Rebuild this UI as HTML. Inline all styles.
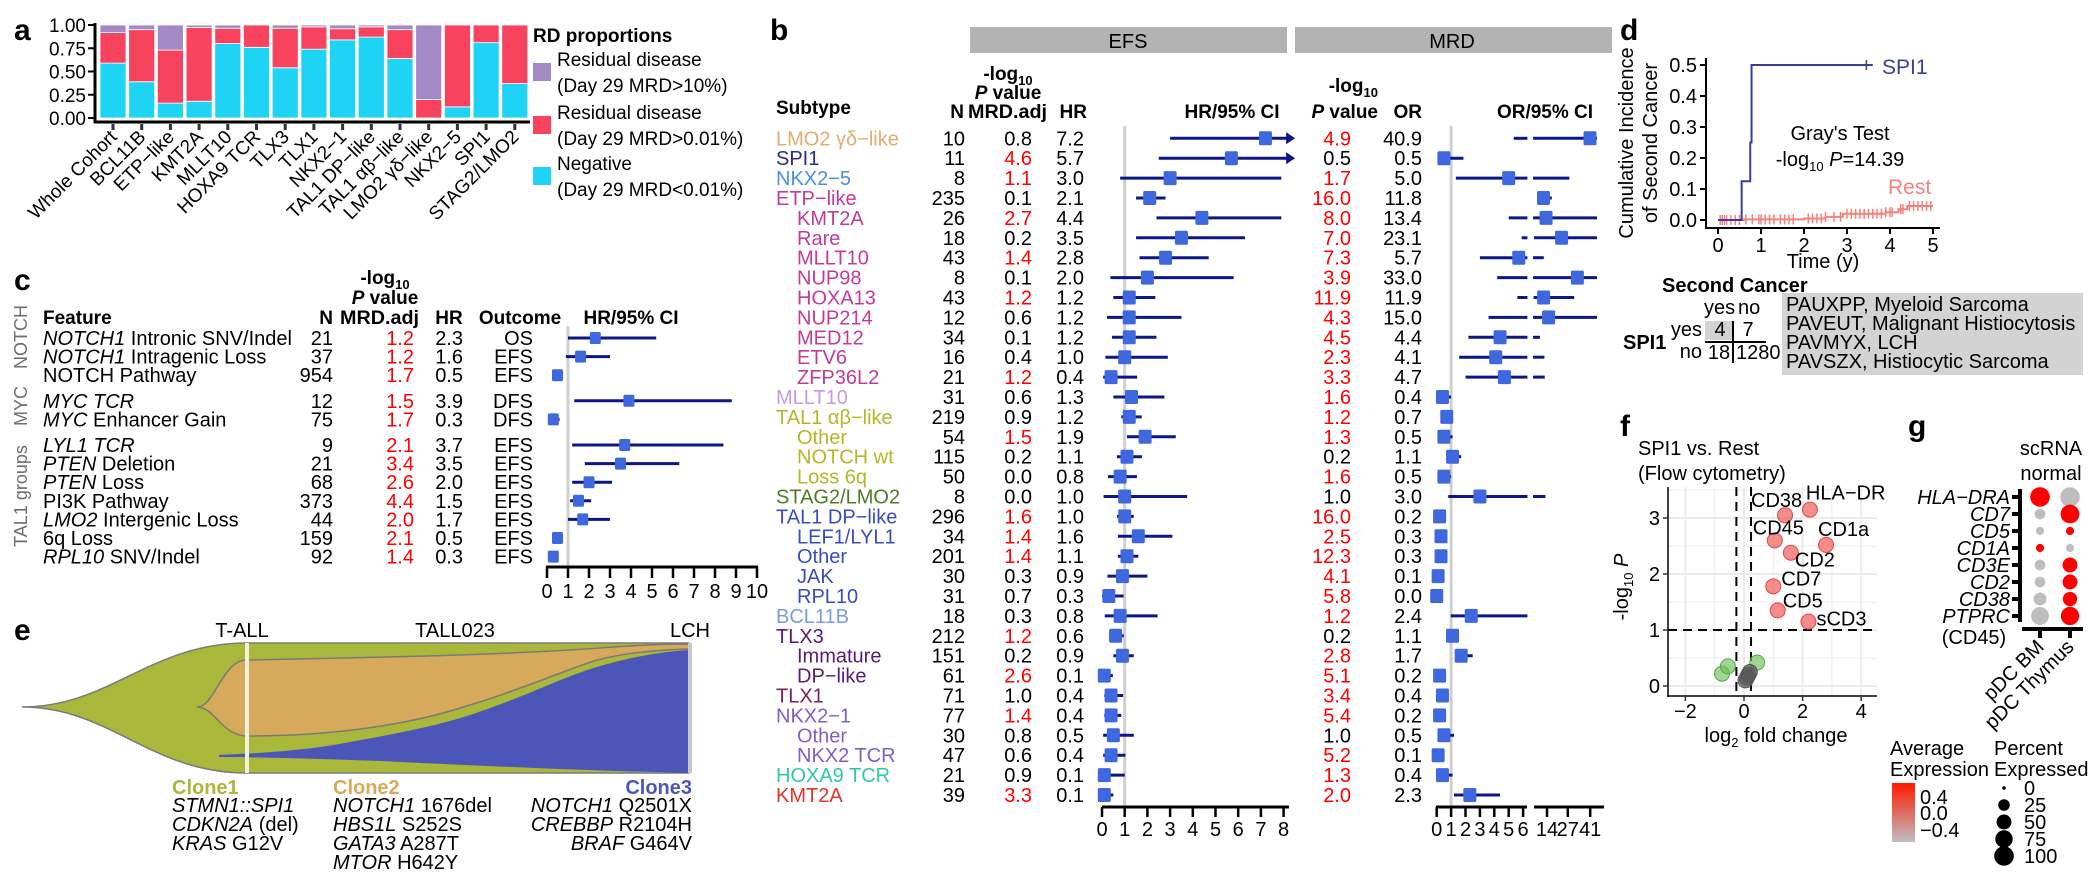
<!DOCTYPE html>
<html><head><meta charset="utf-8"><style>
html,body{margin:0;padding:0;background:#fff;}
svg{display:block;font-family:"Liberation Sans",Arial,sans-serif;}
</style></head><body>
<svg id="fig" xmlns="http://www.w3.org/2000/svg" width="2100" height="882" viewBox="0 0 2100 882" font-size="20">
<rect x="0" y="0" width="2100" height="882" fill="#fff"/>
<text x="14" y="40" font-size="30" font-weight="bold">a</text>
<text x="770" y="40" font-size="30" font-weight="bold">b</text>
<text x="14" y="290" font-size="30" font-weight="bold">c</text>
<text x="1620" y="40" font-size="30" font-weight="bold">d</text>
<text x="14" y="640" font-size="30" font-weight="bold">e</text>
<text x="1620" y="436" font-size="30" font-weight="bold">f</text>
<text x="1908" y="436" font-size="30" font-weight="bold">g</text>

<g>
<path d="M22,707 C110,707 150,643 247,643 L689,643 L689,773 L247,773 C150,773 110,707 22,707 Z" fill="#a9b73a" stroke="#7a7a7a" stroke-width="1.5"/>
<path d="M197,707 C215,707 222,660 247,660 C400,657 500,655 600,648 C640,645 670,644 689,644 L689,649 C650,650 620,654 597,660 C560,672 520,690 470,705 C400,728 320,736 247,736 C222,736 215,707 197,707 Z" fill="#d6a95b" stroke="#7a7a7a" stroke-width="1.5"/>
<path d="M219,755 C240,754 300,752 350,742 C400,733 440,725 470,715 C530,695 560,678 597,667 C630,657 660,652 689,650 L689,773 C600,771 480,766 380,761 C300,758 250,757 219,757 Z" fill="#4c56b8"/>
<line x1="247" y1="643" x2="247" y2="773" stroke="#f3f1dc" stroke-width="4"/>
<line x1="690" y1="643" x2="690" y2="773" stroke="#c8c8c8" stroke-width="4"/>
</g>
<text x="242" y="637" text-anchor="middle">T-ALL</text>
<text x="455" y="637" text-anchor="middle">TALL023</text>
<text x="690" y="637" text-anchor="middle">LCH</text>
<g>
<text x="172" y="794" font-weight="bold" fill="#a9b73a">Clone1</text>
<text x="172" y="812"><tspan font-style="italic">STMN1::SPI1</tspan></text>
<text x="172" y="831"><tspan font-style="italic">CDKN2A</tspan> (del)</text>
<text x="172" y="850"><tspan font-style="italic">KRAS</tspan> G12V</text>
</g>
<g>
<text x="333" y="794" font-weight="bold" fill="#d6a95b">Clone2</text>
<text x="333" y="812"><tspan font-style="italic">NOTCH1</tspan> 1676del</text>
<text x="333" y="831"><tspan font-style="italic">HBS1L</tspan> S252S</text>
<text x="333" y="850"><tspan font-style="italic">GATA3</tspan> A287T</text>
<text x="333" y="869"><tspan font-style="italic">MTOR</tspan> H642Y</text>
</g>
<g text-anchor="end">
<text x="692" y="794" font-weight="bold" fill="#4c56b8">Clone3</text>
<text x="692" y="812"><tspan font-style="italic">NOTCH1</tspan> Q2501X</text>
<text x="692" y="831"><tspan font-style="italic">CREBBP</tspan> R2104H</text>
<text x="692" y="850"><tspan font-style="italic">BRAF</tspan> G464V</text>
</g>

<text x="1840" y="140" text-anchor="middle">Gray's Test</text>
<text x="1840" y="166" text-anchor="middle">-log<tspan font-size="13" dy="5">10</tspan><tspan dy="-5" font-style="italic"> P</tspan>=14.39</text>
<text x="1662" y="292" font-weight="bold">Second Cancer</text>
<g>
<text x="1704" y="314">yes</text><text x="1738" y="314">no</text>
<text x="1623" y="349" font-weight="bold">SPI1</text>
<text x="1702" y="336" text-anchor="end">yes</text>
<text x="1702" y="358" text-anchor="end">no</text>
<rect x="1705" y="321" width="28" height="19" fill="#d3d3d3"/>
<text x="1720" y="336" text-anchor="middle">4</text>
<text x="1748" y="336" text-anchor="middle">7</text>
<text x="1719" y="359" text-anchor="middle">18</text>
<text x="1736" y="359">1280</text>
<line x1="1705" y1="342" x2="1766" y2="342" stroke="#000" stroke-width="2"/>
<line x1="1733" y1="321" x2="1733" y2="363" stroke="#000" stroke-width="2"/>
</g>
<g>
<rect x="1782" y="293" width="301" height="82" fill="#d3d3d3"/>
<text x="1786" y="311">PAUXPP, Myeloid Sarcoma</text>
<text x="1786" y="330">PAVEUT, Malignant Histiocytosis</text>
<text x="1786" y="349">PAVMYX, LCH</text>
<text x="1786" y="368">PAVSZX, Histiocytic Sarcoma</text>
</g>
</svg>
<script>
const NS='http://www.w3.org/2000/svg';
const svg=document.getElementById('fig');
function mk(tag,attrs,parent){const e=document.createElementNS(NS,tag);for(const k in attrs)e.setAttribute(k,attrs[k]);(parent||svg).appendChild(e);return e;}
function tx(x,y,s,attrs,parent){const e=mk('text',Object.assign({x:x,y:y},attrs||{}),parent);e.textContent=s;return e;}

/* ---------- panel a data ---------- */
const aCats=['Whole Cohort','BCL11B','ETP−like','KMT2A','MLLT10','HOXA9 TCR','TLX3','TLX1','NKX2−1','TAL1 DP−like','TAL1 αβ−like','LMO2 γδ−like','NKX2−5','SPI1','STAG2/LMO2'];
const aNegative=[0.59,0.39,0.16,0.18,0.80,0.76,0.54,0.74,0.84,0.87,0.64,0.00,0.12,0.81,0.37];
const aRD001=[0.33,0.56,0.57,0.795,0.165,0.24,0.425,0.24,0.12,0.11,0.31,0.20,0.88,0.19,0.63];
const aRD10=[0.08,0.05,0.27,0.025,0.035,0.00,0.035,0.02,0.04,0.02,0.05,0.80,0.00,0.00,0.00];
const aTicks=['0.00','0.25','0.50','0.75','1.00'];

/* ---------- panel b data ---------- */
const bNames=['LMO2 γδ−like','SPI1','NKX2−5','ETP−like','KMT2A','Rare','MLLT10','NUP98','HOXA13','NUP214','MED12','ETV6','ZFP36L2','MLLT10','TAL1 αβ−like','Other','NOTCH wt','Loss 6q','STAG2/LMO2','TAL1 DP−like','LEF1/LYL1','Other','JAK','RPL10','BCL11B','TLX3','Immature','DP−like','TLX1','NKX2−1','Other','NKX2 TCR','HOXA9 TCR','KMT2A'];
const bIndent=[0,0,0,0,1,1,1,1,1,1,1,1,1,0,0,1,1,1,0,0,1,1,1,1,0,0,1,1,0,0,1,1,0,0];
const bColors=['#dfae6c','#2e2a85','#4a8fe6','#c23b9b','#c23b9b','#c23b9b','#c23b9b','#c23b9b','#c23b9b','#c23b9b','#c23b9b','#c23b9b','#c23b9b','#c49be8','#b2b828','#b2b828','#b2b828','#b2b828','#4e7a23','#3b4cc0','#3b4cc0','#3b4cc0','#3b4cc0','#3b4cc0','#7b9be6','#5b1a78','#5b1a78','#5b1a78','#7a1f5c','#7e5fcb','#7e5fcb','#7e5fcb','#2fc9a6','#e0352b'];
const bN=[10,11,8,235,26,18,43,8,43,12,34,16,21,31,219,54,115,50,8,296,34,201,30,31,18,212,151,61,71,77,30,47,21,39];
const bEfsP=[0.8,4.6,1.1,0.1,2.7,0.2,1.4,0.1,1.2,0.6,0.1,0.4,1.2,0.6,0.9,1.5,0.2,0.0,0.0,1.6,1.4,1.4,0.3,0.7,0.3,1.2,0.2,2.6,1.0,1.4,0.8,0.6,0.9,3.3];
const bHR=[7.2,5.7,3.0,2.1,4.4,3.5,2.8,2.0,1.2,1.2,1.2,1.0,0.4,1.3,1.2,1.9,1.1,0.8,1.0,1.0,1.6,1.1,0.9,0.3,0.8,0.6,0.9,0.1,0.4,0.4,0.5,0.4,0.1,0.1];
const bHRlo=[3.0,2.5,0.8,1.5,2.4,1.5,1.65,0.37,0.5,0.22,0.44,0.15,0.05,0.5,0.85,1.1,0.66,0.26,0.07,0.66,0.7,0.7,0.24,0.0,0.12,0.32,0.5,0.0,0.1,0.1,0.05,0.05,0.0,0.0];
const bHRhi=[20,20,7.9,2.8,7.9,6.3,4.7,5.8,2.35,3.5,2.4,2.9,1.55,2.75,1.75,3.25,1.76,1.54,3.75,1.4,3.1,1.6,2.0,0.95,2.45,0.96,1.4,0.48,0.93,0.85,1.4,1.03,1.0,0.5];
const bMrdP=[4.9,0.5,1.7,16.0,8.0,7.0,7.3,3.9,11.9,4.3,4.5,2.3,3.3,1.6,1.2,1.3,0.2,1.6,1.0,16.0,2.5,12.3,4.1,5.8,1.2,0.2,2.8,5.1,3.4,5.4,1.0,5.2,1.3,2.0];
const bOR=[40.9,0.5,5.0,11.8,13.4,23.1,5.7,33.0,11.9,15.0,4.4,4.1,4.7,0.4,0.7,0.5,1.1,0.5,3.0,0.2,0.3,0.3,0.1,0.0,2.4,1.1,1.7,0.2,0.4,0.2,0.5,0.1,0.4,2.3];
const bORlo=[5.35,0.1,1.33,9,5.0,5.9,3.0,4.2,5.6,3.6,2.2,1.56,2.0,0.1,0.53,0.3,0.75,0.23,0.8,0.1,0.1,0.2,0.0,0.0,0.98,0.8,1.28,0.05,0.1,0.05,0.15,0.0,0.05,1.2];
const bORhi=[60,1.86,28,17,60,60,12,60,31,60,9.6,12.4,12.6,1.0,1.1,1.1,1.7,1.0,13,0.3,0.7,0.4,0.45,0.2,6.3,1.5,2.5,0.4,0.65,0.45,1.2,0.35,1.1,4.4];
const bEfsTicks=[0,1,2,3,4,5,6,7,8];
const bOrTicksL=[0,1,2,3,4,5,6];
const bOrTicksR=[14,27,41];

/* ---------- panel c data ---------- */
const cItal=['NOTCH1','NOTCH1','','MYC TCR','MYC','LYL1 TCR','PTEN','PTEN','','LMO2','','RPL10'];
const cRest=[' Intronic SNV/Indel',' Intragenic Loss','NOTCH Pathway','',' Enhancer Gain','',' Deletion',' Loss','PI3K  Pathway',' Intergenic Loss','6q Loss',' SNV/Indel'];
const cGroup=[0,0,0,1,1,2,2,2,2,2,2,2];
const cN=[21,37,954,12,75,9,21,68,373,44,159,92];
const cP=[1.2,1.2,1.7,1.5,1.7,2.1,3.4,2.6,4.4,2.0,2.1,1.4];
const cHR=[2.3,1.6,0.5,3.9,0.3,3.7,3.5,2.0,1.5,1.7,0.5,0.3];
const cLo=[1.0,0.9,0.35,1.3,0.1,1.2,1.8,1.2,1.1,1.0,0.35,0.15];
const cHi=[5.2,3.0,0.7,8.8,0.6,8.4,6.3,3.1,2.1,3.0,0.75,0.5];
const cOutcome=['OS','EFS','EFS','DFS','DFS','EFS','EFS','EFS','EFS','EFS','EFS','EFS'];
const cTicks=[0,1,2,3,4,5,6,7,8,9,10];

/* ---------- panel d data ---------- */
const dSpiT=[0,0.55,0.75,0.78,3.6];
const dSpiY=[0,0.125,0.25,0.5,0.5];
const dRestT=[0,0.6,2.0,2.5,2.9,3.9,4.2,4.4,5.0];
const dRestY=[0,0.002,0.005,0.01,0.02,0.025,0.035,0.045,0.045];
const dRestCens=[0.05,0.1,0.15,0.2,0.3,0.4,0.5,0.65,0.8,0.95,1.0,1.1,1.2,1.3,1.45,1.55,1.65,1.75,2.1,2.2,2.3,2.4,2.5,2.7,2.85,3.0,3.1,3.2,3.3,3.4,3.5,3.6,3.7,3.8,3.9,4.0,4.05,4.25,4.3,4.45,4.55,4.65,4.75,4.85,4.95];
const dSpiCens=[3.45];
const dYTicks=[0,0.1,0.2,0.3,0.4,0.5];
const dXTicks=[0,1,2,3,4,5];

/* ---------- panel f data ---------- */
const fLabels=['CD38','HLA−DR','CD45','CD1a','CD2','CD7','CD5','sCD3','','','','','','',''];
const fFC=[1.4,2.25,1.05,2.8,1.6,1.0,1.15,2.2,-0.75,-0.55,0.45,0.1,0.15,0.2,0.05];
const fP=[3.05,3.15,2.6,2.52,2.38,1.78,1.35,1.15,0.22,0.35,0.42,0.15,0.2,0.25,0.1];
const fCls=['up','up','up','up','up','up','up','up','down','down','down','ns','ns','ns','ns'];
const fXTicks=[-2,0,2,4];
const fYTicks=[0,1,2,3];

/* ---------- panel g data ---------- */
const gGenes=['HLA−DRA','CD7','CD5','CD1A','CD3E','CD2','CD38','PTPRC'];
const gGroups=['pDC BM','pDC Thymus'];
const gPctBM=[100,20,8,8,20,20,35,80];
const gPctThy=[100,90,8,8,50,50,45,85];
const gExpBM=[0.4,-0.4,-0.4,0.4,-0.4,-0.4,-0.4,-0.4];
const gExpThy=[-0.4,0.4,0.4,-0.4,0.4,0.4,0.4,0.4];
const gSizeLeg=[0,25,50,75,100];

/* ================= PANEL A ================= */
const gA=mk('g',{});


const yA=v=>118-93*v;
const xA=i=>100+i*28.7;
aCats.forEach((c,i)=>{
  const x=xA(i);
  const parts=[[aNegative[i],'#1fd3f5','negative'],[aRD001[i],'#f7435e','residual-001'],[aRD10[i],'#a38ac6','residual-10']];
  let base=0;
  parts.forEach(p=>{
    if(p[0]>0){
      const r=mk('rect',{x:x,y:yA(base+p[0]),width:26,height:yA(base)-yA(base+p[0]),fill:p[1],stroke:'#fff','stroke-width':0.8},gA);
      
      
    }
    base+=p[0];
  });
  mk('rect',{x:x+11.5,y:124,width:3,height:6,fill:'#333'},gA);
  const t=tx(x+18,138,c,{'text-anchor':'end','font-size':19,transform:'rotate(-45 '+(x+18)+' 138)'},gA);
  
  
});
mk('line',{x1:95,y1:23,x2:95,y2:123,stroke:'#000','stroke-width':3},gA);
mk('line',{x1:94,y1:122,x2:530,y2:122,stroke:'#000','stroke-width':3},gA);
aTicks.forEach(t=>{
  const v=parseFloat(t);
  mk('line',{x1:88,y1:yA(v),x2:95,y2:yA(v),stroke:'#000','stroke-width':2},gA);
  const l=tx(86,yA(v)+7,t,{'text-anchor':'end','font-size':19},gA);
  
  
});
const legA=mk('g',{});


tx(533,42,'RD proportions',{'font-weight':'bold','font-size':19},legA);
[['#a38ac6','Residual disease','(Day 29 MRD>10%)',59],['#f7435e','Residual disease','(Day 29 MRD>0.01%)',112],['#1fd3f5','Negative','(Day 29 MRD<0.01%)',163]].forEach(l=>{
  const r=mk('rect',{x:533,y:l[3]+4,width:18,height:18,fill:l[0]},legA);
  
  
  tx(557,l[3]+7,l[1],{'font-size':19},legA);
  tx(557,l[3]+33,l[2],{'font-size':19},legA);
});

/* ================= PANEL B ================= */
const gB=mk('g',{});


const yB=i=>138.3+i*19.9;
const xE=v=>1102+22.7*Math.min(v,8.2);
const xOL=v=>1436.7+14.4*v;
const xOR=v=>1547+(v-14)*1.6;
const xOpt=v=>v<=6.3?xOL(v):xOR(v);
let r1=mk('rect',{x:970,y:27,width:317,height:26,fill:'#b3b3b3'},gB);


tx(1128,48,'EFS',{'text-anchor':'middle'},gB);
let r2=mk('rect',{x:1295,y:27,width:317,height:26,fill:'#b3b3b3'},gB);


tx(1452,48,'MRD',{'text-anchor':'middle'},gB);
const hb={'font-weight':'bold','font-size':19};
tx(776,114,'Subtype',hb,gB);
tx(1008,80,'',Object.assign({'text-anchor':'middle'},hb),gB).innerHTML='-log<tspan font-size="13" dy="5">10</tspan>';
tx(1008,99,'',Object.assign({'text-anchor':'middle'},hb),gB).innerHTML='<tspan font-style="italic">P</tspan> value';
tx(964,118,'N',Object.assign({'text-anchor':'end'},hb),gB);
tx(968,118,'MRD.adj',Object.assign({textLength:79,lengthAdjust:'spacingAndGlyphs'},hb),gB);
tx(1087,118,'HR',Object.assign({'text-anchor':'end'},hb),gB);
tx(1232,118,'HR/95% CI',Object.assign({'text-anchor':'middle'},hb),gB);
tx(1378,92,'',Object.assign({'text-anchor':'end'},hb),gB).innerHTML='-log<tspan font-size="13" dy="5">10</tspan>';
tx(1378,118,'',Object.assign({'text-anchor':'end'},hb),gB).innerHTML='<tspan font-style="italic">P</tspan> value';
tx(1422,118,'OR',Object.assign({'text-anchor':'end'},hb),gB);
tx(1545,118,'OR/95% CI',Object.assign({'text-anchor':'middle'},hb),gB);
mk('line',{x1:xE(1),y1:126,x2:xE(1),y2:806,stroke:'#cfcfcf','stroke-width':3},gB);
mk('line',{x1:xOL(1),y1:126,x2:xOL(1),y2:806,stroke:'#cfcfcf','stroke-width':3},gB);
bNames.forEach((n,i)=>{
  const y=yB(i);
  const lab=tx(bIndent[i]?797:776,y+7,n,{fill:bColors[i]},gB);
  
  
  tx(965,y+7,String(bN[i]),{'text-anchor':'end'},gB);
  tx(1032,y+7,bEfsP[i].toFixed(1),{'text-anchor':'end',fill:bEfsP[i]>1.0?'#ff0000':'#000'},gB);
  tx(1084,y+7,bHR[i].toFixed(1),{'text-anchor':'end'},gB);
  tx(1351,y+7,bMrdP[i].toFixed(1),{'text-anchor':'end',fill:bMrdP[i]>1.0?'#ff0000':'#000'},gB);
  tx(1422,y+7,bOR[i].toFixed(1),{'text-anchor':'end'},gB);
  const ci=mk('line',{x1:xE(bHRlo[i]),y1:y,x2:xE(bHRhi[i]),y2:y,stroke:'#0c1785','stroke-width':3},gB);
  
  
  if(bHRhi[i]>8.2){
    const ar=mk('path',{d:'M'+(xE(8.2)-2)+','+(y-6)+' L'+(xE(8.2)+7)+','+y+' L'+(xE(8.2)-2)+','+(y+6)+' Z',fill:'#0c1785'},gB);
    
    
  }
  const sq=mk('rect',{x:xE(bHR[i])-6.5,y:y-7,width:13,height:14,rx:1.5,fill:'#3f68de'},gB);
  
  
  const lo=bORlo[i],hi=bORhi[i];
  if(lo<6.3){
    const l=mk('line',{x1:xOL(lo),y1:y,x2:xOL(Math.min(hi,6.3)),y2:y,stroke:'#0c1785','stroke-width':3},gB);
    
    
  }
  if(hi>6.5){
    const l=mk('line',{x1:Math.max(xOR(lo),1533),y1:y,x2:Math.min(xOR(hi),1597),y2:y,stroke:'#0c1785','stroke-width':3},gB);
    
    
  }
  const s2=mk('rect',{x:xOpt(bOR[i])-6.5,y:y-7,width:13,height:14,rx:1.5,fill:'#3f68de'},gB);
  
  
});
mk('line',{x1:1102,y1:807,x2:1289,y2:807,stroke:'#000','stroke-width':3},gB);
bEfsTicks.forEach(t=>{
  mk('line',{x1:xE(t),y1:807,x2:xE(t),y2:817,stroke:'#000','stroke-width':2.5},gB);
  const l=tx(xE(t),836,String(t),{'text-anchor':'middle'},gB);
  
  
});
mk('line',{x1:1436,y1:807,x2:1527,y2:807,stroke:'#000','stroke-width':3},gB);
mk('line',{x1:1534,y1:807,x2:1604,y2:807,stroke:'#000','stroke-width':3},gB);
bOrTicksL.forEach(t=>{
  mk('line',{x1:xOL(t),y1:807,x2:xOL(t),y2:817,stroke:'#000','stroke-width':2.5},gB);
  const l=tx(xOL(t),836,String(t),{'text-anchor':'middle'},gB);
  
  
});
bOrTicksR.forEach(t=>{
  mk('line',{x1:xOR(t),y1:807,x2:xOR(t),y2:817,stroke:'#000','stroke-width':2.5},gB);
  const l=tx(xOR(t),836,String(t),{'text-anchor':'middle'},gB);
  
  
});

/* ================= PANEL C ================= */
const gC=mk('g',{});


const yC=i=>338+i*18.6+cGroup[i]*7;
const xC=v=>547+21*v;
tx(385,284,'',{'text-anchor':'middle','font-weight':'bold','font-size':19},gC).innerHTML='-log<tspan font-size="13" dy="5">10</tspan>';
tx(385,304,'',{'text-anchor':'middle','font-weight':'bold','font-size':19},gC).innerHTML='<tspan font-style="italic">P</tspan> value';
tx(43,324,'Feature',hb,gC);
tx(333,324,'N',Object.assign({'text-anchor':'end'},hb),gC);
tx(340,324,'MRD.adj',Object.assign({textLength:79,lengthAdjust:'spacingAndGlyphs'},hb),gC);
tx(449,324,'HR',Object.assign({'text-anchor':'middle'},hb),gC);
tx(520,324,'Outcome',Object.assign({'text-anchor':'middle'},hb),gC);
tx(631,324,'HR/95% CI',Object.assign({'text-anchor':'middle'},hb),gC);
mk('line',{x1:xC(1),y1:326,x2:xC(1),y2:566,stroke:'#cfcfcf','stroke-width':3},gC);
cN.forEach((n,i)=>{
  const y=yC(i);
  const f=tx(43,y+7,'',{},gC);
  f.innerHTML=(cItal[i]?'<tspan font-style="italic">'+cItal[i]+'</tspan>':'')+cRest[i];
  
  
  tx(333,y+7,String(n),{'text-anchor':'end'},gC);
  tx(414,y+7,cP[i].toFixed(1),{'text-anchor':'end',fill:cP[i]>1.0?'#ff0000':'#000'},gC);
  tx(463,y+7,cHR[i].toFixed(1),{'text-anchor':'end'},gC);
  tx(533,y+7,cOutcome[i],{'text-anchor':'end'},gC);
  const l=mk('line',{x1:xC(cLo[i]),y1:y,x2:xC(cHi[i]),y2:y,stroke:'#0c1785','stroke-width':3},gC);
  
  
  const s=mk('rect',{x:xC(cHR[i])-5.5,y:y-6,width:11,height:12,rx:1.5,fill:'#3f68de'},gC);
  
  
});
[['NOTCH',343],['MYC',412],['TAL1 groups',502]].forEach(g=>{
  const t=tx(33,g[1],g[0],{'text-anchor':'middle','font-size':18,fill:'#6e6e6e',transform:'rotate(-90 27 '+g[1]+')'},gC);
  
  
});
mk('line',{x1:546,y1:567,x2:758,y2:567,stroke:'#000','stroke-width':3},gC);
cTicks.forEach(t=>{
  mk('line',{x1:xC(t),y1:567,x2:xC(t),y2:578,stroke:'#000','stroke-width':2.5},gC);
  const l=tx(xC(t),598,String(t),{'text-anchor':'middle'},gC);
  
  
});

/* ================= PANEL D ================= */
const gD=mk('g',{});


const xD=t=>1718+43*t;
const yD=v=>220-310*v;
mk('line',{x1:1706,y1:58,x2:1706,y2:229,stroke:'#000','stroke-width':2},gD);
mk('line',{x1:1705,y1:228,x2:1940,y2:228,stroke:'#000','stroke-width':2},gD);
dYTicks.forEach(t=>{
  mk('line',{x1:1700,y1:yD(t),x2:1706,y2:yD(t),stroke:'#000','stroke-width':2},gD);
  const l=tx(1697,yD(t)+7,t.toFixed(1),{'text-anchor':'end'},gD);
  
  
});
dXTicks.forEach(t=>{
  mk('line',{x1:xD(t),y1:228,x2:xD(t),y2:234,stroke:'#000','stroke-width':2},gD);
  const l=tx(xD(t),252,String(t),{'text-anchor':'middle'},gD);
  
  
});
tx(1823,268,'Time (y)',{'text-anchor':'middle'},gD);
tx(1640,150,'Cumulative Incidence',{'text-anchor':'middle',transform:'rotate(-90 1633 150)'},gD);
tx(1664,150,'of Second Cancer',{'text-anchor':'middle',transform:'rotate(-90 1657 150)'},gD);
function stepPath(T,Y){let d='M'+xD(T[0])+','+yD(Y[0]);for(let i=1;i<T.length;i++){d+=' H'+xD(T[i])+' V'+yD(Y[i]);}return d;}
function stepAt(T,Y,t){let v=Y[0];for(let i=0;i<T.length;i++){if(T[i]<=t)v=Y[i];}return v;}
const rp=mk('path',{d:stepPath(dRestT,dRestY),fill:'none',stroke:'#f4827a','stroke-width':2},gD);


dRestCens.forEach(t=>{
  const y=yD(stepAt(dRestT,dRestY,t));
  mk('line',{x1:xD(t),y1:y-5,x2:xD(t),y2:y+5,stroke:'#f4827a','stroke-width':1.5},gD);
});
const sp=mk('path',{d:stepPath(dSpiT,dSpiY),fill:'none',stroke:'#3c3c9a','stroke-width':2},gD);


dSpiCens.forEach(t=>{
  const y=yD(stepAt(dSpiT,dSpiY,t));
  mk('line',{x1:xD(t),y1:y-5,x2:xD(t),y2:y+5,stroke:'#3c3c9a','stroke-width':1.5},gD);
});
tx(1882,74,'SPI1',{fill:'#3c3c9a','font-size':21},gD);
tx(1888,194,'Rest',{fill:'#f4827a','font-size':21},gD);

/* ================= PANEL F ================= */
const gF=mk('g',{});


const xF=v=>1744+29.3*v;
const yF=v=>686-56*v;
tx(1638,455,'SPI1 vs. Rest',{},gF);
tx(1638,480,'(Flow cytometry)',{},gF);
[-2,-1,0,1,2,3,4].forEach(v=>mk('line',{x1:xF(v),y1:487,x2:xF(v),y2:696,stroke:'#ebebeb','stroke-width':v%2===0?2:1},gF));
[0,0.5,1,1.5,2,2.5,3,3.5].forEach(v=>{if(yF(v)>=487)mk('line',{x1:1668,y1:yF(v),x2:1877,y2:yF(v),stroke:'#ebebeb','stroke-width':v%1===0?2:1},gF);});
mk('line',{x1:1668,y1:yF(1),x2:1877,y2:yF(1),stroke:'#000','stroke-width':2,'stroke-dasharray':'9,6'},gF);
mk('line',{x1:xF(-0.26),y1:487,x2:xF(-0.26),y2:696,stroke:'#000','stroke-width':2,'stroke-dasharray':'9,6'},gF);
mk('line',{x1:xF(0.24),y1:487,x2:xF(0.24),y2:696,stroke:'#000','stroke-width':2,'stroke-dasharray':'9,6'},gF);
mk('line',{x1:1668,y1:487,x2:1668,y2:697,stroke:'#000','stroke-width':1.5},gF);
mk('line',{x1:1667,y1:696,x2:1877,y2:696,stroke:'#000','stroke-width':1.5},gF);
fXTicks.forEach(t=>{
  mk('line',{x1:xF(t),y1:696,x2:xF(t),y2:701,stroke:'#333','stroke-width':1.5},gF);
  const l=tx(xF(t),718,String(t).replace('-','−'),{'text-anchor':'middle'},gF);
  
  
});
fYTicks.forEach(t=>{
  mk('line',{x1:1663,y1:yF(t),x2:1668,y2:yF(t),stroke:'#333','stroke-width':1.5},gF);
  const l=tx(1660,yF(t)+7,String(t),{'text-anchor':'end'},gF);
  
  
});
tx(1776,742,'',{'text-anchor':'middle'},gF).innerHTML='log<tspan font-size="13" dy="5">2</tspan><tspan dy="-5"> fold change</tspan>';
tx(1634,593,'',{'text-anchor':'middle',transform:'rotate(-90 1628 593)'},gF).innerHTML='-log<tspan font-size="13" dy="5">10</tspan><tspan dy="-5" font-style="italic"> P</tspan>';
const fCol={up:['rgba(240,80,80,0.65)','#e04545'],down:['rgba(110,190,90,0.65)','#55a845'],ns:['rgba(90,90,90,0.75)','#555']};
fFC.forEach((v,i)=>{
  const c=mk('circle',{cx:xF(v),cy:yF(fP[i]),r:7.5,fill:fCol[fCls[i]][0],stroke:fCol[fCls[i]][1],'stroke-width':1},gF);
  
  
});
const fOff=[[-34,-15],[-4,-17],[-22,-13],[-8,-16],[4,7],[8,-8],[5,-10],[8,-3]];
fLabels.forEach((s,i)=>{
  if(!s)return;
  const t=tx(xF(fFC[i])+fOff[i][0],yF(fP[i])+fOff[i][1]+7,s,{},gF);
  
  
});

/* ================= PANEL G ================= */
const gG=mk('g',{});


const yG=i=>497+i*17;
const xG=j=>2040+j*30;
tx(2051,455,'scRNA',{'text-anchor':'middle'},gG);
tx(2051,480,'normal',{'text-anchor':'middle'},gG);
const rG=p=>1.8+Math.sqrt(p/100)*8;
const colG=v=>{const t=(v+0.4)/0.8;const r=Math.round(190+t*(255-190)),g=Math.round(190-t*190),b=Math.round(190-t*190);return 'rgb('+r+','+g+','+b+')';};
mk('line',{x1:2020,y1:489,x2:2020,y2:622,stroke:'#000','stroke-width':4},gG);
gGenes.forEach((g,i)=>{
  mk('line',{x1:2012,y1:yG(i),x2:2020,y2:yG(i),stroke:'#000','stroke-width':4},gG);
  const t=tx(2010,yG(i)+7,g,{'text-anchor':'end','font-style':'italic'},gG);
  
  
  const c1=mk('circle',{cx:xG(0),cy:yG(i),r:rG(gPctBM[i]),fill:colG(gExpBM[i])},gG);
  
  
  const c2=mk('circle',{cx:xG(1),cy:yG(i),r:rG(gPctThy[i]),fill:colG(gExpThy[i])},gG);
  
  
});
tx(1974,644,'(CD45)',{'text-anchor':'middle'},gG);
mk('line',{x1:2022,y1:629,x2:2083,y2:629,stroke:'#000','stroke-width':4},gG);
gGroups.forEach((g,j)=>{
  mk('line',{x1:xG(j),y1:629,x2:xG(j),y2:638,stroke:'#000','stroke-width':4},gG);
  const t=tx(xG(j)+5,648,g,{'text-anchor':'end',transform:'rotate(-45 '+(xG(j)+5)+' 648)'},gG);
  
  
});
const defs=mk('defs',{},gG);
const lg=mk('linearGradient',{id:'expgrad',x1:0,y1:1,x2:0,y2:0},defs);
mk('stop',{offset:'0','stop-color':'#bebebe'},lg);
mk('stop',{offset:'1','stop-color':'#ff1a00'},lg);
tx(1890,755,'Average',{},gG);
tx(1890,776,'Expression',{},gG);
tx(1994,755,'Percent',{},gG);
tx(1994,776,'Expressed',{},gG);
const cb=mk('rect',{x:1892,y:783,width:23,height:59,fill:'url(#expgrad)'},gG);


[['0.4',797],['0.0',813],['−0.4',830]].forEach(l=>tx(1920,l[1]+7,l[0],{},gG));
gSizeLeg.forEach((p,i)=>{
  const y=788+i*17;
  const c=mk('circle',{cx:2004,cy:y,r:rG(p),fill:'#000'},gG);
  
  
  tx(2024,y+7,String(p),{},gG);
});
</script>
</body></html>
